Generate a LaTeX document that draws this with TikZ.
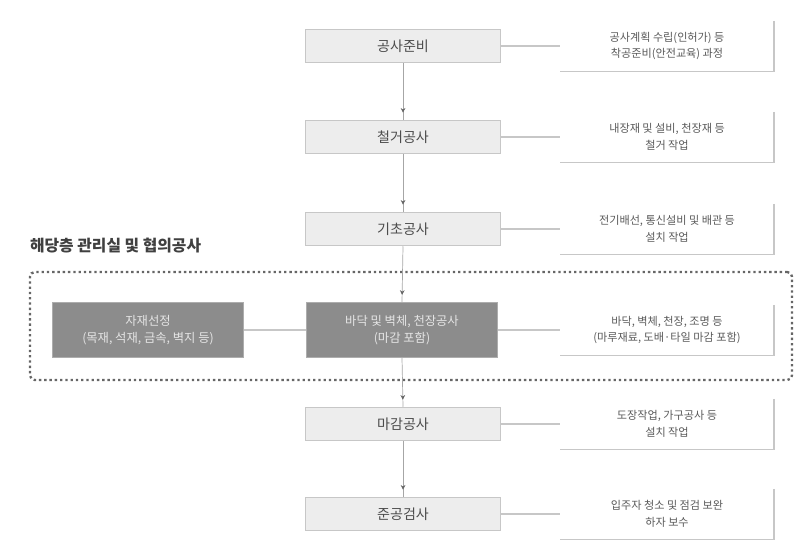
\documentclass[tikz,border=0pt]{standalone}
\usepackage{fontspec}
\usepackage{xcolor}
\usepackage{tikz}
\newfontfamily\krfont{Noto Sans CJK KR}
\usetikzlibrary{positioning, arrows.meta, decorations.markings}

\begin{document}
\begin{tikzpicture}[x=0.03cm,y=-0.03cm,font=\krfont,
    stage node/.style={rectangle,fill=black!7,draw=black!22,line width=1pt,minimum width=5.85cm,minimum height=1cm,font=\krfont\fontsize{12}{14}\selectfont,text=black!70},
    work node/.style={rectangle,fill=black!45,draw=black!32,line width=1pt,minimum width=5.75cm,minimum height=1.65cm,align=center,font=\krfont\fontsize{10.5}{14}\selectfont,text=black!10},
    note node/.style={rectangle,minimum width=6.4cm,minimum height=1.5cm,align=center,font=\krfont\fontsize{9.5}{14}\selectfont,text=black!65},
    note line/.style={draw=black!22,line width=1pt},
    flow line/.style={draw=black!35,line width=0.6pt,postaction={decorate},
        decoration={markings,mark=at position -6pt with {\arrow{Stealth[length=4pt,width=4pt,black!60]}}}}]
\useasboundingbox (0,0) rectangle (795,540);

% dashed group round the work stage
\node[rectangle,draw=black!60,line width=2pt,dash pattern=on 2pt off 2.5pt,rounded corners=4pt,
      minimum width=22.86cm,minimum height=3.24cm] (Group) at (411,326) {};
\node[anchor=west,font=\krfont\bfseries\fontsize{13.5}{15}\selectfont,text=black!75] (GroupLabel) at (26,246) {해당층 관리실 및 협의공사};

% main stages with their notes
\foreach \name/\ypos/\title/\noteA/\noteB in {
    Prep/46/공사준비/{공사계획 수립(인허가) 등}/{착공준비(안전교육) 과정},
    Demolition/137/철거공사/{내장재 및 설비, 천장재 등}/{철거 작업},
    Base/229/기초공사/{전기배선, 통신설비 및 배관 등}/{설치 작업},
    Finish/424/마감공사/{도장작업, 가구공사 등}/{설치 작업},
    Inspect/514/준공검사/{입주자 청소 및 점검 보완}/{하자 보수}}
{
  \node[stage node] (\name) at (403,\ypos) {\title};
  \node[note node] (\name Note) at (667,\ypos) {\noteA\\\noteB};
  \draw[note line] (\name.east) -- (\name Note.west);
  \draw[note line] (\name Note.north east) -- (\name Note.south east) -- (\name Note.south west);
}

% work stage inside the group
\node[work node] (MidWork) at (402,330) {바닥 및 벽체, 천장공사\\(마감 포함)};
\node[work node] (Material) at (148,330) {자재선정\\(목재, 석재, 금속, 벽지 등)};
\node[note node] (MidWorkNote) at (667,330) {바닥, 벽체, 천장, 조명 등\\(마루재료, 도배·타일 마감 포함)};
\draw[note line] (Material.east) -- (MidWork.west);
\draw[note line] (MidWork.east) -- (MidWorkNote.west);
\draw[note line] (MidWorkNote.north east) -- (MidWorkNote.south east) -- (MidWorkNote.south west);

% flow
\foreach \from/\to in {Prep/Demolition, Demolition/Base, Base/MidWork, MidWork/Finish, Finish/Inspect}
  \draw[flow line] (\from.south) -- (\to.north);
\end{tikzpicture}
\end{document}
